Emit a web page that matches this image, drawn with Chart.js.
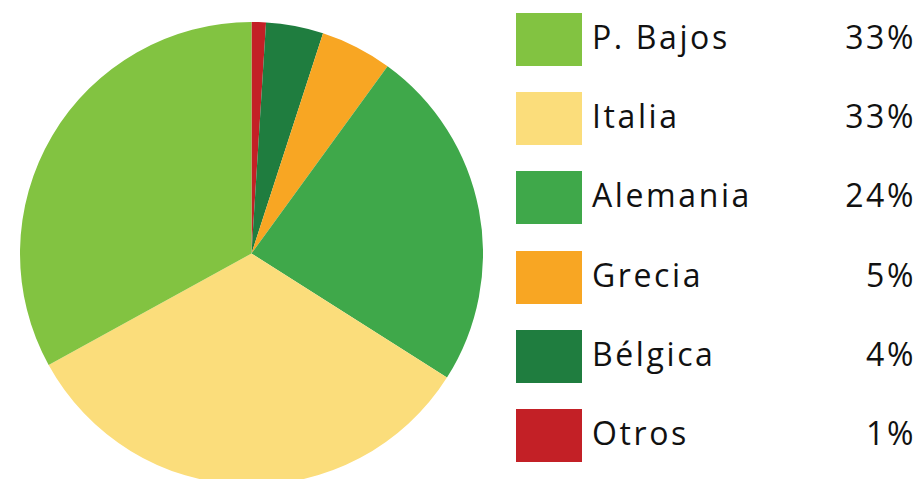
<!DOCTYPE html>
<html lang="es">
<head>
  <meta charset="UTF-8">
  <title>Reparto por país</title>
  <script src="https://cdn.jsdelivr.net/npm/chart.js"></script>
  <style>
    html, body { margin: 0; padding: 0; background: #fff; overflow: hidden; }
    body { width: 919px; height: 479px; position: relative; }
    #pieBox { position: absolute; left: 20px; top: 22px; width: 463px; height: 463px; }
    .row { position: absolute; left: 516px; width: 397px; height: 53px; font-family: "Open Sans", sans-serif; font-size: 32px; color: #111; letter-spacing: 2.6px; }
    .sw { position: absolute; left: 0; top: 0; width: 66px; height: 53px; }
    .lab { position: absolute; left: 76px; top: 4px; line-height: 40px; }
    .pct { position: absolute; right: -3px; top: 4px; line-height: 40px; }
  </style>
</head>
<body>
  <div id="pieBox"><canvas id="pie"></canvas></div>
  <div id="legend"></div>

  <script>
    // legend order (top to bottom)
    var countries = ['P. Bajos', 'Italia', 'Alemania', 'Grecia', 'Bélgica', 'Otros'];
    var shares = [33, 33, 24, 5, 4, 1];
    var colors = ['#82c341', '#fbdd7b', '#3fa84a', '#f8a623', '#1f7d3f', '#c32026'];

    // legend rows
    var legend = document.getElementById('legend');
    for (var i = 0; i < countries.length; i++) {
      var row = document.createElement('div');
      row.className = 'row';
      row.style.top = (13 + i * 79.2) + 'px';
      row.innerHTML = '<div class="sw" style="background:' + colors[i] + '"></div>' +
        '<span class="lab">' + countries[i] + '</span>' +
        '<span class="pct">' + shares[i] + '%</span>';
      legend.appendChild(row);
    }

    // the pie runs clockwise from the top starting with "Otros"
    var pieLabels = countries.slice().reverse();
    var pieData = shares.slice().reverse();
    var pieColors = colors.slice().reverse();

    new Chart(document.getElementById('pie'), {
      type: 'pie',
      data: {
        labels: pieLabels,
        datasets: [{
          data: pieData,
          backgroundColor: pieColors,
          borderWidth: 0
        }]
      },
      options: {
        responsive: true,
        maintainAspectRatio: false,
        animation: false,
        layout: { padding: 0 },
        plugins: {
          legend: { display: false },
          tooltip: { enabled: false }
        }
      }
    });
  </script>
</body>
</html>
